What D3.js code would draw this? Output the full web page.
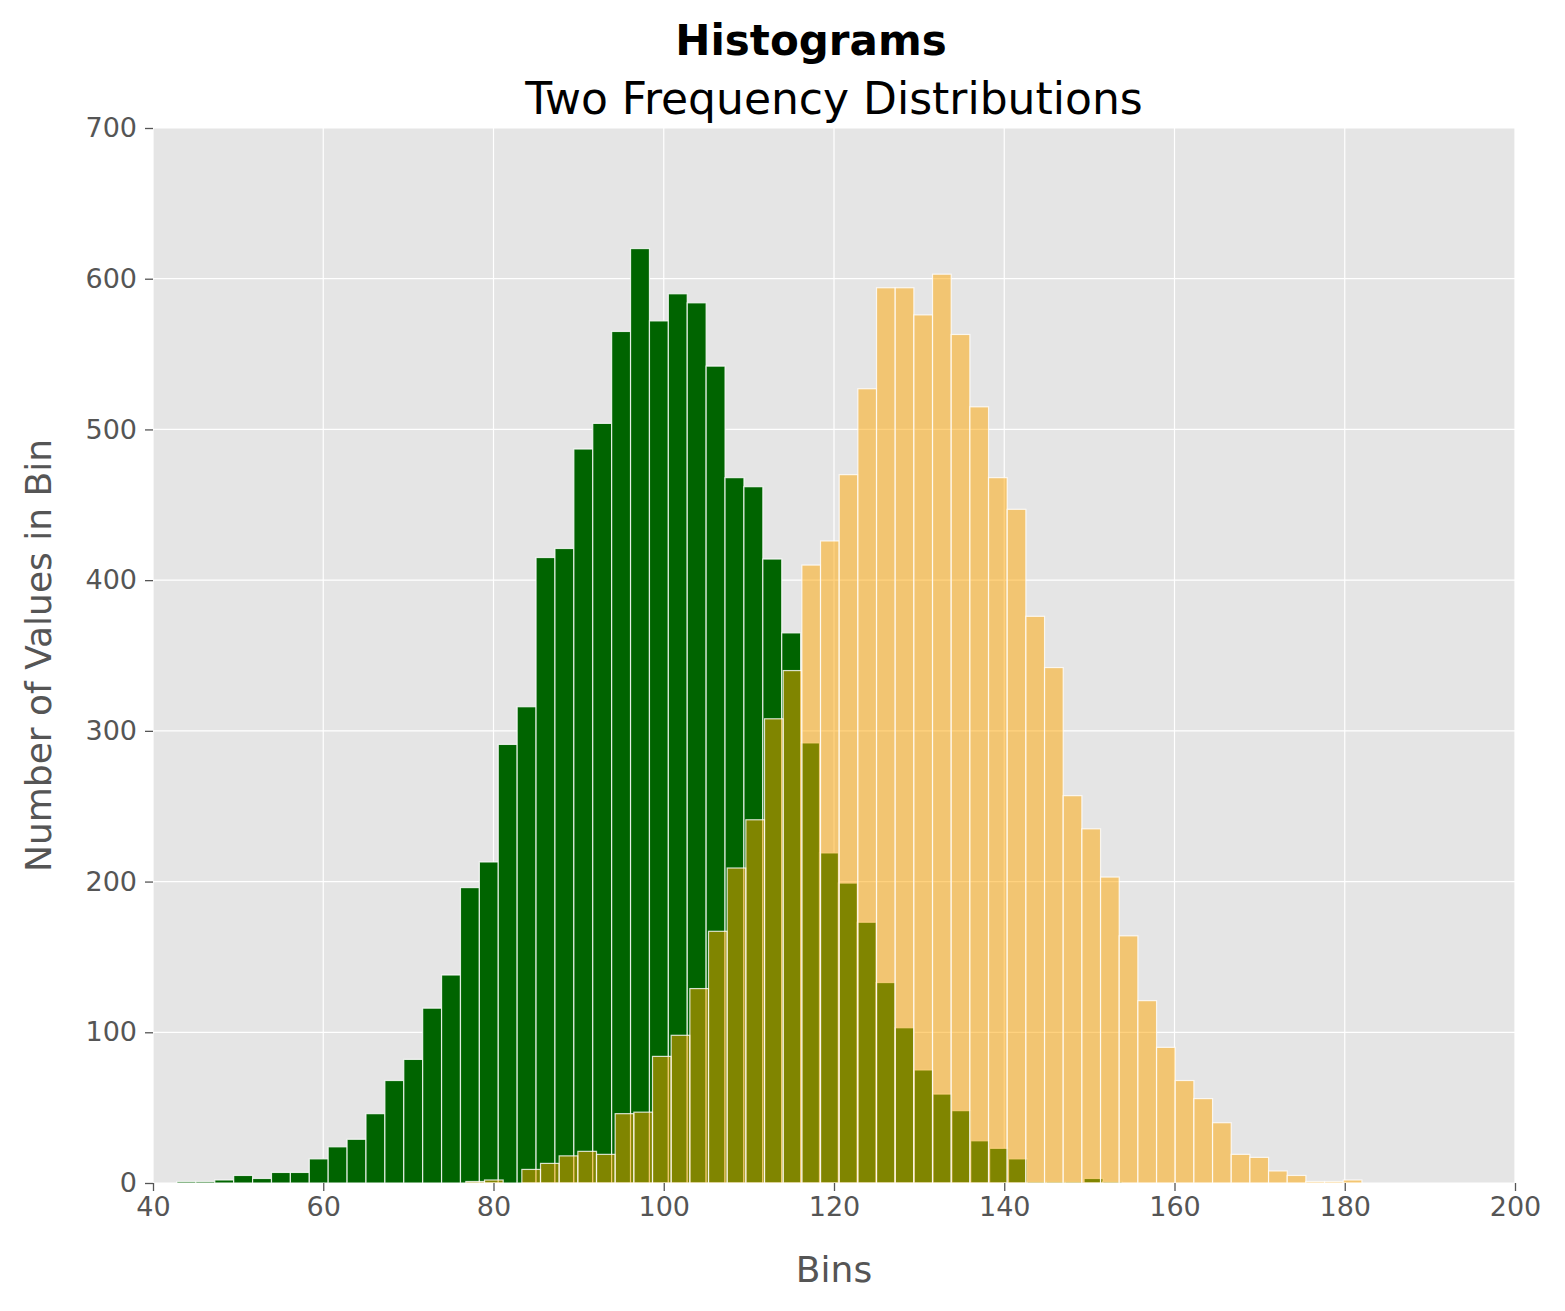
<!DOCTYPE html>
<html><head><meta charset="utf-8">
<script src="https://cdn.jsdelivr.net/npm/d3@7"></script>
<style>body{margin:0;background:#fff;} text{font-family:"DejaVu Sans",sans-serif;}</style>
</head><body>
<script>
// bin layout for each series: first edge and bin width (data units)
var greenStart = 42.82, greenWidth = 2.22;
var greenCounts = [1,1,2,5,3,7,7,16,24,29,46,68,82,116,138,196,213,291,316,415,421,487,504,565,620,572,590,584,542,468,462,414,365,292,219,199,173,133,103,75,59,48,28,23,16,1,1,1,3,1];
var orangeStart = 76.75, orangeWidth = 2.193;
var orangeCounts = [1,2,0,9,13,18,21,19,46,47,84,98,129,167,209,241,308,340,410,426,470,527,594,594,576,603,563,515,468,447,376,342,257,235,203,164,121,90,68,56,40,19,17,8,5,1,1,2];
var xTicks = [40,60,80,100,120,140,160,180,200];
var yTicks = [0,100,200,300,400,500,600,700];

var width = 1565, height = 1311;
var m = {left:153, right:50, top:128, bottom:128};

var svg = d3.select("body").append("svg").attr("width", width).attr("height", height);

var x = d3.scaleLinear().domain([40,200]).range([m.left, width-m.right]);
var y = d3.scaleLinear().domain([0,700]).range([height-m.bottom, m.top]);

svg.append("rect").attr("x", m.left).attr("y", m.top)
	.attr("width", x(200)-x(40)).attr("height", y(0)-y(700)).attr("fill", "#e5e5e5");

// grid
svg.selectAll(".gx").data(xTicks).enter().append("line")
	.attr("x1", d => x(d)).attr("x2", d => x(d)).attr("y1", y(0)).attr("y2", y(700))
	.attr("stroke", "#fff").attr("stroke-width", 1.2);
svg.selectAll(".gy").data(yTicks).enter().append("line")
	.attr("x1", x(40)).attr("x2", x(200)).attr("y1", d => y(d)).attr("y2", d => y(d))
	.attr("stroke", "#fff").attr("stroke-width", 1.2);

function bars(counts, start, w, fill, op){
	svg.append("g").selectAll("rect").data(counts).enter().append("rect")
		.attr("x", (d,i) => x(start + i*w))
		.attr("width", x(start + w) - x(start))
		.attr("y", d => y(d))
		.attr("height", d => y(0) - y(d))
		.attr("fill", fill).attr("fill-opacity", op)
		.attr("stroke", "#fff").attr("stroke-opacity", 0.8).attr("stroke-width", 1.2);
}
bars(greenCounts, greenStart, greenWidth, "#006400", 1);
bars(orangeCounts, orangeStart, orangeWidth, "orange", 0.5);

// axes
var xa = svg.append("g").attr("transform", "translate(0," + y(0) + ")")
	.call(d3.axisBottom(x).tickValues(xTicks).tickSize(8).tickPadding(6).tickFormat(d3.format("d")));
var ya = svg.append("g").attr("transform", "translate(" + x(40) + ",0)")
	.call(d3.axisLeft(y).tickValues(yTicks).tickSize(8).tickPadding(8).tickFormat(d3.format("d")));
[xa, ya].forEach(function(a){
	a.select(".domain").remove();
	a.selectAll("line").attr("stroke", "#555").attr("stroke-width", 1.3);
	a.selectAll("text").attr("fill", "#555").style("font-size", "27px").style("font-family", "DejaVu Sans");
});

svg.append("text").attr("x", 811).attr("y", 55).attr("text-anchor", "middle")
	.style("font-size", "42px").style("font-weight", "bold").text("Histograms");
svg.append("text").attr("x", 834).attr("y", 114).attr("text-anchor", "middle")
	.style("font-size", "44px").text("Two Frequency Distributions");
svg.append("text").attr("x", 834).attr("y", 1282).attr("text-anchor", "middle")
	.attr("fill", "#555").style("font-size", "36px").text("Bins");
svg.append("text").attr("transform", "translate(51," + ((y(0)+y(700))/2) + ") rotate(-90)")
	.attr("text-anchor", "middle").attr("fill", "#555").style("font-size", "36px").text("Number of Values in Bin");
</script>
</body></html>
